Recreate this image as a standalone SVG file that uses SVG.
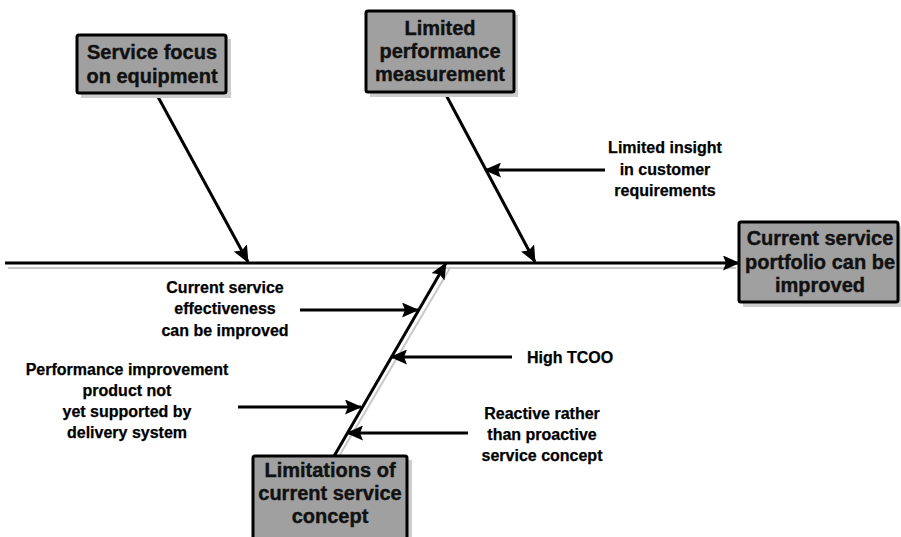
<svg xmlns="http://www.w3.org/2000/svg" width="901" height="537" viewBox="0 0 901 537">
  <style>
    .box { fill: #a0a0a0; stroke: #000; stroke-width: 3; }
    .shadow { fill: #cdcdcd; }
    .bt { font-family: "Liberation Sans", Arial, sans-serif; font-weight: bold; font-size: 20px; fill: #111; stroke: #111; stroke-width: 0.4; text-anchor: middle; }
    .lbl { font-family: "Liberation Sans", Arial, sans-serif; font-weight: bold; font-size: 16px; fill: #000; stroke: #000; stroke-width: 0.25; text-anchor: middle; }
    .bone { stroke: #000; stroke-width: 3; fill: none; }
    .shade { stroke: #c8c8c8; stroke-width: 2; fill: none; }
  </style>
  <defs>
    <marker id="head" markerUnits="userSpaceOnUse" markerWidth="17" markerHeight="15" refX="16" refY="7.5" orient="auto">
      <path d="M0,0 L17,7.5 L0,15 L3,7.5 Z" fill="#000"/>
    </marker>
  </defs>
  <rect width="901" height="537" fill="#fff"/>

  <!-- connectors -->
  <g id="connectors">
    <!-- soft offset shading under the bones -->
    <line class="shade" x1="8" y1="268" x2="736" y2="268"/>
    <line class="shade" x1="338" y1="458" x2="450" y2="268"/>
    <!-- spine -->
    <line class="bone" x1="5" y1="263" x2="739" y2="263" marker-end="url(#head)"/>
    <!-- main bones -->
    <line class="bone" x1="157" y1="95" x2="248" y2="262" marker-end="url(#head)"/>
    <line class="bone" x1="445" y1="93" x2="535" y2="262" marker-end="url(#head)"/>
    <line class="bone" x1="333" y1="458" x2="446" y2="263" marker-end="url(#head)"/>
    <!-- sub-causes -->
    <line class="bone" x1="605" y1="170" x2="485" y2="170" marker-end="url(#head)"/>
    <line class="bone" x1="300" y1="310" x2="418" y2="310" marker-end="url(#head)"/>
    <line class="bone" x1="512" y1="357" x2="391" y2="357" marker-end="url(#head)"/>
    <line class="bone" x1="238" y1="407" x2="361" y2="407" marker-end="url(#head)"/>
    <line class="bone" x1="468" y1="433" x2="347" y2="433" marker-end="url(#head)"/>
  </g>

  <!-- cause boxes -->
  <g id="service-focus">
    <rect class="shadow" x="81" y="39" width="150" height="59"/>
    <rect class="box" x="77" y="35" width="149" height="58" rx="2"/>
    <text class="bt" x="152" y="59">Service focus</text>
    <text class="bt" x="152" y="83">on equipment</text>
  </g>

  <g id="limited-performance">
    <rect class="shadow" x="370" y="15" width="148" height="82"/>
    <rect class="box" x="366" y="11" width="148" height="81" rx="2"/>
    <text class="bt" x="440" y="35">Limited</text>
    <text class="bt" x="440" y="58">performance</text>
    <text class="bt" x="440" y="81">measurement</text>
  </g>

  <g id="portfolio">
    <rect class="shadow" x="743" y="226" width="158" height="81"/>
    <rect class="box" x="739" y="222" width="159" height="80" rx="2"/>
    <text class="bt" x="820" y="245">Current service</text>
    <text class="bt" x="820" y="269">portfolio can be</text>
    <text class="bt" x="820" y="292">improved</text>
  </g>

  <g id="limitations">
    <rect class="shadow" x="257" y="460" width="155" height="80"/>
    <rect class="box" x="253" y="456" width="154" height="90" rx="2"/>
    <text class="bt" x="330" y="477">Limitations of</text>
    <text class="bt" x="330" y="500">current service</text>
    <text class="bt" x="330" y="523">concept</text>
  </g>

  <!-- sub-cause labels -->
  <g id="insight">
    <text class="lbl" x="665" y="153">Limited insight</text>
    <text class="lbl" x="665" y="175">in customer</text>
    <text class="lbl" x="665" y="196">requirements</text>
  </g>

  <g id="effectiveness">
    <text class="lbl" x="225" y="293">Current service</text>
    <text class="lbl" x="225" y="314">effectiveness</text>
    <text class="lbl" x="225" y="336">can be improved</text>
  </g>

  <g id="tcoo">
    <text class="lbl" x="570" y="363">High TCOO</text>
  </g>

  <g id="performance-product">
    <text class="lbl" x="127" y="375">Performance improvement</text>
    <text class="lbl" x="127" y="396">product not</text>
    <text class="lbl" x="127" y="417">yet supported by</text>
    <text class="lbl" x="127" y="438">delivery system</text>
  </g>

  <g id="reactive">
    <text class="lbl" x="542" y="419">Reactive rather</text>
    <text class="lbl" x="542" y="440">than proactive</text>
    <text class="lbl" x="542" y="461">service concept</text>
  </g>
</svg>
